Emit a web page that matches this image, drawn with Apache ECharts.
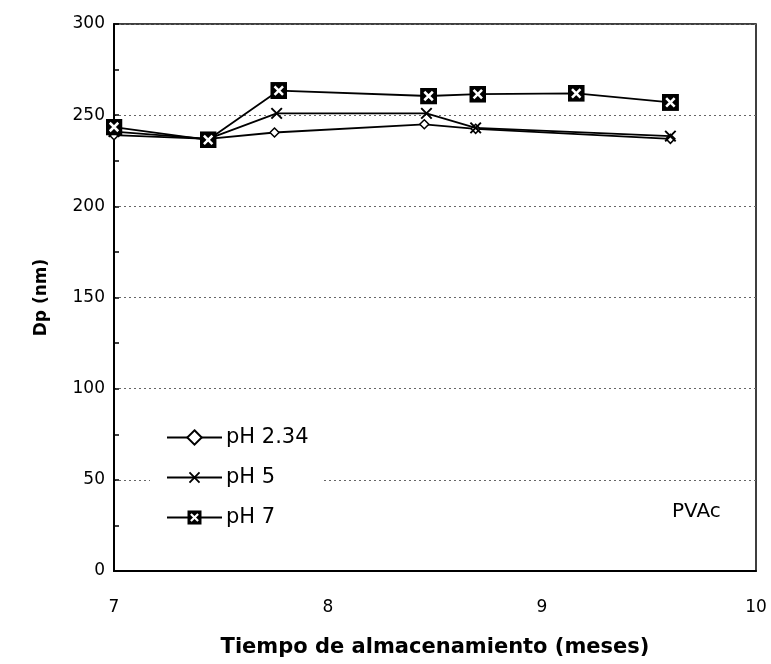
<!DOCTYPE html>
<html>
<head>
<meta charset="utf-8">
<script src="https://cdn.jsdelivr.net/npm/echarts@6/dist/echarts.min.js"></script>
<style>
  html, body { margin: 0; padding: 0; background: #fff; }
  #chart { width: 771px; height: 664px; }
</style>
</head>
<body>
<div id="chart"></div>
<script>
// Particle diameter of PVAc latex over storage time, at three pH values
const seriesNames = ['pH 2.34', 'pH 5', 'pH 7'];

const monthsPH234 = [7.00, 7.44, 7.75, 8.45, 8.69, 9.60];
const dpPH234     = [239.0, 237.0, 240.5, 245.0, 242.5, 237.0];

const monthsPH5 = [7.00, 7.44, 7.76, 8.46, 8.69, 9.60];
const dpPH5     = [241.0, 237.0, 251.0, 251.0, 243.0, 238.5];

const monthsPH7 = [7.00, 7.44, 7.77, 8.47, 8.70, 9.16, 9.60];
const dpPH7     = [243.5, 236.5, 263.5, 260.5, 261.5, 262.0, 257.0];

const xTicks = { min: 7, max: 10, interval: 1 };
const yTicks = { min: 0, max: 300, interval: 50 };

function pairs(xs, ys) { return xs.map((x, i) => [x, ys[i]]); }

function svgSymbol(svg) {
  return 'image://data:image/svg+xml;charset=utf-8,' + encodeURIComponent(svg);
}
const crossSymbol = svgSymbol(
  '<svg xmlns="http://www.w3.org/2000/svg" width="20" height="20">' +
  '<path d="M3 3L17 17M17 3L3 17" stroke="#000" stroke-width="2.6" fill="none"/></svg>');
const boxCrossSymbol = svgSymbol(
  '<svg xmlns="http://www.w3.org/2000/svg" width="20" height="20">' +
  '<rect x="0" y="0" width="20" height="20" fill="#000"/>' +
  '<path d="M5 5L15 15M15 5L5 15" stroke="#fff" stroke-width="3" fill="none"/></svg>');

const font = '"DejaVu Sans", Verdana, sans-serif';
const chart = echarts.init(document.getElementById('chart'), null, { renderer: 'canvas' });

chart.setOption({
  animation: false,
  backgroundColor: '#fff',
  grid: { left: 114, right: 15, top: 24, bottom: 93, show: true, borderColor: '#000', borderWidth: 1.5, backgroundColor: 'transparent' },
  xAxis: {
    type: 'value',
    min: xTicks.min, max: xTicks.max, interval: xTicks.interval,
    name: 'Tiempo de almacenamiento (meses)',
    nameLocation: 'middle', nameGap: 66,
    nameTextStyle: { fontFamily: font, fontSize: 21, fontWeight: 'bold', color: '#000' },
    axisLine: { lineStyle: { color: '#000', width: 2 } },
    axisTick: { show: false },
    axisLabel: { margin: 28, fontFamily: font, fontSize: 17, color: '#000' },
    splitLine: { show: false }
  },
  yAxis: {
    type: 'value',
    min: yTicks.min, max: yTicks.max, interval: yTicks.interval,
    name: 'Dp (nm)',
    nameLocation: 'middle', nameGap: 64,
    nameTextStyle: { fontFamily: font, fontSize: 17, fontWeight: 'bold', color: '#000' },
    axisLine: { lineStyle: { color: '#000', width: 2 } },
    axisTick: { show: true, inside: true, length: 5, lineStyle: { color: '#000', width: 1.5 } },
    minorTick: { show: true, splitNumber: 2, length: 5, lineStyle: { color: '#000', width: 1.5 } },
    axisLabel: { margin: 9, fontFamily: font, fontSize: 17, color: '#000' },
    splitLine: { show: true, lineStyle: { color: '#666', type: [2, 3], width: 1 } }
  },
  legend: {
    data: seriesNames,
    orient: 'vertical',
    left: 150, top: 421,
    padding: [6, 14, 6, 16],
    backgroundColor: '#fff',
    itemWidth: 55, itemHeight: 18, itemGap: 19,
    textStyle: { fontFamily: font, fontSize: 21, color: '#000', padding: [0, 0, 0, -1] }
  },
  graphic: [{
    type: 'text', left: 672, top: 502,
    style: { text: 'PVAc', font: '20px ' + font, fill: '#000' }
  }],
  series: [
    {
      name: seriesNames[0], type: 'line', data: pairs(monthsPH234, dpPH234),
      symbol: 'diamond', symbolSize: 9,
      itemStyle: { color: '#fff', borderColor: '#000', borderWidth: 1.5 },
      lineStyle: { color: '#000', width: 1.8 }, z: 2
    },
    {
      name: seriesNames[1], type: 'line', data: pairs(monthsPH5, dpPH5),
      symbol: crossSymbol, symbolSize: 15,
      itemStyle: { color: '#000' },
      lineStyle: { color: '#000', width: 1.8 }, z: 3
    },
    {
      name: seriesNames[2], type: 'line', data: pairs(monthsPH7, dpPH7),
      symbol: boxCrossSymbol, symbolSize: 17,
      itemStyle: { color: '#000' },
      lineStyle: { color: '#000', width: 1.8 }, z: 4
    }
  ]
});
</script>
</body>
</html>
